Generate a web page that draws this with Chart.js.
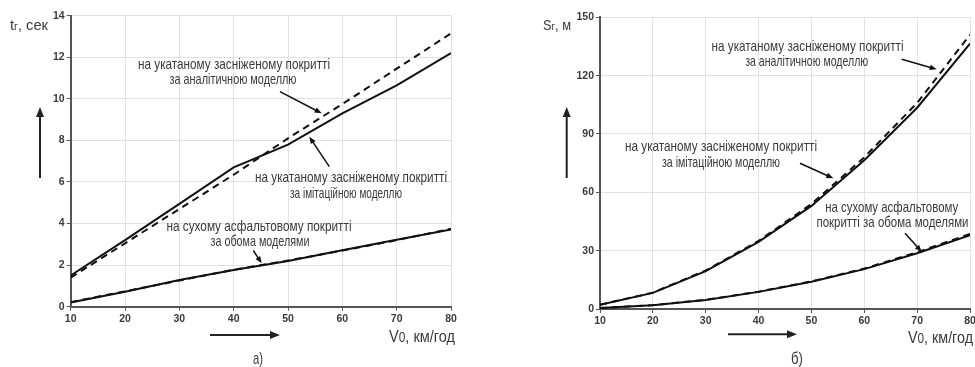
<!DOCTYPE html>
<html lang="uk">
<head>
<meta charset="UTF-8">
<title>Гальмування: час і шлях</title>
<script src="https://cdn.jsdelivr.net/npm/chart.js"></script>
<style>
    body { margin: 0; background: #fff; }
    .panel { position: absolute; top: 0; height: 367px; }
    #leftPanel { left: 0; width: 487px; }
    #rightPanel { left: 487px; width: 488px; }
</style>
</head>
<body>
<div class="panel" id="leftPanel"><canvas id="timeChart"></canvas></div>
<div class="panel" id="rightPanel"><canvas id="distChart"></canvas></div>

<script>
// швидкість, км/год
const speeds = [10, 20, 30, 40, 50, 60, 70, 80];

// час гальмування, с
const tSnowSim  = [1.5, 3.2, 4.95, 6.7, 7.8, 9.3, 10.65, 12.2];
const tSnowAnal = [1.4, 3.05, 4.7, 6.35, 8.1, 9.75, 11.45, 13.15];
const tDrySim   = [0.2, 0.72, 1.28, 1.77, 2.2, 2.72, 3.22, 3.72];
const tDryAnal  = [0.22, 0.74, 1.26, 1.78, 2.22, 2.7, 3.2, 3.75];

// гальмівний шлях, м
const sSnowSim  = [2.2, 8.3, 19.5, 34.5, 53, 76.5, 103.5, 136.5];
const sSnowAnal = [2.2, 8.4, 19.8, 35, 54, 78, 106, 141];
const sDrySim   = [0.5, 1.9, 4.6, 8.8, 14, 20.5, 28.7, 38];
const sDryAnal  = [0.5, 2, 4.7, 8.9, 14.2, 20.8, 29.2, 38.6];

const FONT = '"Liberation Sans", Arial, sans-serif';
const INK = '#3a3a3a';

function pts(ys) {
    return speeds.map((v, i) => ({ x: v, y: ys[i] }));
}

function series(ys, dashed) {
    return {
        data: pts(ys),
        borderColor: '#111',
        borderWidth: 2,
        borderDash: dashed ? [7, 5] : [],
        pointRadius: 0,
        tension: 0,
        fill: false
    };
}

// текст, стиснутий до заданої ширини (як креслярський шрифт)
function fitText(ctx, str, cx, cy, w, size) {
    ctx.save();
    ctx.font = size + 'px ' + FONT;
    const m = ctx.measureText(str).width;
    ctx.translate(cx, cy);
    ctx.scale(w / m, 1);
    ctx.textAlign = 'center';
    ctx.textBaseline = 'middle';
    ctx.fillStyle = INK;
    ctx.fillText(str, 0, 0);
    ctx.restore();
}

// підпис осі з індексом: parts = [[текст, розмір], ...]
function richText(ctx, parts, x, baseline, w) {
    ctx.save();
    let total = 0;
    parts.forEach(p => { ctx.font = p[1] + 'px ' + FONT; total += ctx.measureText(p[0]).width; });
    ctx.translate(x, baseline);
    ctx.scale(w / total, 1);
    ctx.textAlign = 'left';
    ctx.textBaseline = 'alphabetic';
    ctx.fillStyle = INK;
    let pos = 0;
    parts.forEach(p => {
        ctx.font = p[1] + 'px ' + FONT;
        ctx.fillText(p[0], pos, 0);
        pos += ctx.measureText(p[0]).width;
    });
    ctx.restore();
}

function arrow(ctx, x1, y1, x2, y2, head, lw, color) {
    const a = Math.atan2(y2 - y1, x2 - x1);
    ctx.save();
    ctx.strokeStyle = color;
    ctx.fillStyle = color;
    ctx.lineWidth = lw;
    ctx.beginPath();
    ctx.moveTo(x1, y1);
    ctx.lineTo(x2 - Math.cos(a) * head * 0.8, y2 - Math.sin(a) * head * 0.8);
    ctx.stroke();
    ctx.beginPath();
    ctx.moveTo(x2, y2);
    ctx.lineTo(x2 - head * Math.cos(a) + head * 0.4 * Math.sin(a), y2 - head * Math.sin(a) - head * 0.4 * Math.cos(a));
    ctx.lineTo(x2 - head * Math.cos(a) - head * 0.4 * Math.sin(a), y2 - head * Math.sin(a) + head * 0.4 * Math.cos(a));
    ctx.closePath();
    ctx.fill();
    ctx.restore();
}

const notesPlugin = {
    id: 'notes',
    afterDraw(chart, args, opts) {
        const ctx = chart.ctx;
        const ox = opts.offset;
        ctx.save();
        ctx.translate(-ox, 0);
        opts.labels.forEach(l => fitText(ctx, l[0], l[1], l[2], l[3], 15));
        opts.pointers.forEach(p => arrow(ctx, p[0], p[1], p[2], p[3], 7, 1.5, '#111'));
        opts.bigArrows.forEach(p => arrow(ctx, p[0], p[1], p[2], p[3], 10, 2, '#222'));
        richText(ctx, opts.yTitle.parts, opts.yTitle.x, opts.yTitle.y, opts.yTitle.w);
        richText(ctx, [['V', 17], ['0', 14], [', км/год', 17]], opts.xTitle.x, opts.xTitle.y, opts.xTitle.w);
        richText(ctx, [[opts.tag.text, 17]], opts.tag.x, opts.tag.y, opts.tag.w);
        ctx.restore();
    }
};

function makeChart(id, cfg) {
    const area = cfg.area;
    const tickFont = { family: FONT, size: 10.5, weight: 'bold' };
    new Chart(document.getElementById(id), {
        type: 'line',
        data: { datasets: cfg.datasets },
        options: {
            responsive: true,
            maintainAspectRatio: false,
            animation: false,
            layout: { padding: { left: 0, top: area.top, right: cfg.width - area.right, bottom: 0 } },
            plugins: {
                legend: { display: false },
                tooltip: { enabled: false },
                notes: cfg.notes
            },
            scales: {
                x: {
                    type: 'linear',
                    min: 10, max: 80,
                    ticks: { stepSize: 10, font: tickFont, color: INK, padding: 2, maxRotation: 0 },
                    grid: { color: '#e2e2e2', lineWidth: 1, tickColor: '#555', tickLength: 4 },
                    border: { color: '#555', width: 2 },
                    afterFit(scale) {
                        scale.height = 367 - area.bottom;
                        scale.paddingLeft = 0;
                        scale.paddingRight = 0;
                    }
                },
                y: {
                    min: 0, max: cfg.yMax,
                    ticks: { stepSize: cfg.yStep, font: tickFont, color: INK, padding: 2 },
                    grid: { color: '#e2e2e2', lineWidth: 1, tickColor: '#555', tickLength: 4 },
                    border: { color: '#555', width: 2 },
                    afterFit(scale) {
                        scale.width = area.left;
                        scale.paddingTop = 0;
                        scale.paddingBottom = 0;
                    }
                }
            }
        },
        plugins: [notesPlugin]
    });
}

makeChart('timeChart', {
    width: 487,
    area: { left: 70.7, right: 451, top: 15.7, bottom: 306.7 },
    yMax: 14, yStep: 2,
    datasets: [series(tSnowSim, false), series(tSnowAnal, true), series(tDrySim, false), series(tDryAnal, true)],
    notes: {
        offset: 0,
        labels: [
            ['на укатаному засніженому покритті', 234, 65, 192],
            ['за аналітичною моделлю', 233, 80, 127],
            ['на укатаному засніженому покритті', 351, 178, 192],
            ['за імітаційною моделлю', 346, 194, 112],
            ['на сухому асфальтовому покритті', 259, 227, 185],
            ['за обома моделями', 260, 241.7, 99]
        ],
        pointers: [
            [280, 91.7, 321.7, 113.3],
            [329.3, 166.7, 309.3, 136.7],
            [253.3, 250.5, 261.7, 263.3]
        ],
        bigArrows: [
            [40, 178, 40, 107],
            [210, 335, 280, 335]
        ],
        yTitle: { parts: [['t', 15], ['г', 11], [', сек', 15]], x: 10, y: 29.5, w: 38 },
        xTitle: { x: 389, y: 342, w: 66 },
        tag: { text: 'а)', x: 253, y: 364, w: 10 }
    }
});

makeChart('distChart', {
    width: 488,
    area: { left: 113, right: 483, top: 17.3, bottom: 309 },
    yMax: 150, yStep: 30,
    datasets: [series(sSnowSim, false), series(sSnowAnal, true), series(sDrySim, false), series(sDryAnal, true)],
    notes: {
        offset: 487,
        labels: [
            ['на укатаному засніженому покритті', 807.5, 46.7, 192],
            ['за аналітичною моделлю', 806.7, 61.7, 123],
            ['на укатаному засніженому покритті', 721, 146.7, 192],
            ['за імітаційною моделлю', 721, 163.3, 118],
            ['на сухому асфальтовому', 891.7, 208.3, 133],
            ['покритті за обома моделями', 892.5, 223.3, 152]
        ],
        pointers: [
            [901.7, 59.3, 936.7, 69.3],
            [800, 163.3, 833.3, 178.3],
            [905, 233.3, 921.7, 251.7]
        ],
        bigArrows: [
            [566.7, 178, 566.7, 107],
            [728, 334.3, 797, 334.3]
        ],
        yTitle: { parts: [['S', 15], ['г', 11], [', м', 15]], x: 543, y: 30, w: 28 },
        xTitle: { x: 908, y: 342.5, w: 65 },
        tag: { text: 'б)', x: 791, y: 364, w: 12 }
    }
});
</script>
</body>
</html>
